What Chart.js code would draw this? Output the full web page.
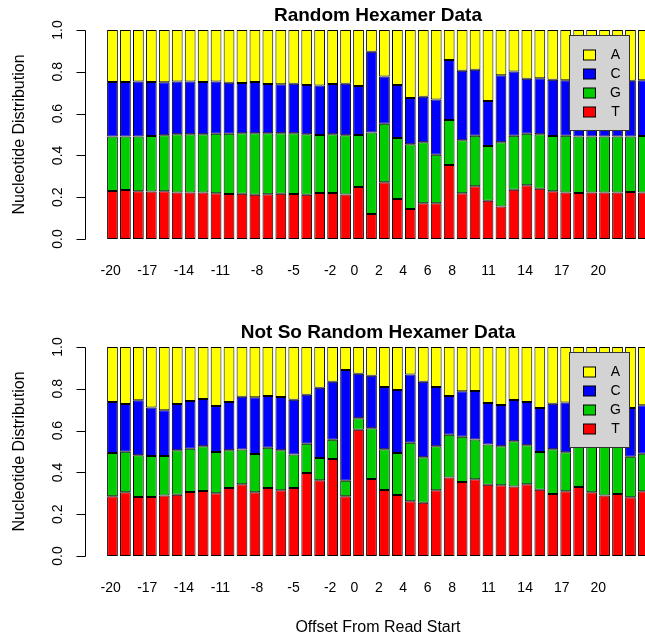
<!DOCTYPE html>
<html>
<head>
<meta charset="utf-8">
<script src="https://cdn.jsdelivr.net/npm/chart.js@4.4.0/dist/chart.umd.min.js"></script>
<style>
  html, body { margin: 0; padding: 0; background: #fff; overflow: hidden; }
  #wrap { position: relative; width: 645px; height: 635px; overflow: hidden; }
  canvas { position: absolute; left: 0; }
  #c1 { top: 0; }
  #c2 { top: 317px; }
</style>
</head>
<body>
<div id="wrap">
  <canvas id="c1" width="660" height="279"></canvas>
  <canvas id="c2" width="660" height="320"></canvas>
</div>
<script>
/* Data: offsets from read start, fraction of each nucleotide */
const offsets = [-20, -19, -18, -17, -16, -15, -14, -13, -12, -11, -10, -9, -8, -7, -6, -5, -4, -3, -2, -1,
  0, 1, 2, 3, 4, 5, 6, 7, 8, 9, 10, 11, 12, 13, 14, 15, 16, 17, 18, 19, 20, 21];
const xTicks = [-20, -17, -14, -11, -8, -5, -2, 0, 2, 4, 6, 8, 11, 14, 17, 20];
const yTicks = [0, 0.2, 0.4, 0.6, 0.8, 1.0];

// Random hexamer data
const randT = [.230, .234, .228, .227, .228, .223, .222, .223, .219, .215, .216, .212, .214, .216, .215, .212, .220, .220, .213, .249,
  .120, .271, .191, .144, .171, .171, .354, .219, .252, .183, .156, .236, .257, .241, .228, .223, .220, .223, .223, .223, .225, .223];
const randG = [.261, .257, .263, .266, .268, .278, .279, .278, .285, .288, .290, .294, .292, .290, .291, .289, .278, .281, .283, .249,
  .389, .281, .292, .309, .292, .232, .215, .253, .242, .262, .307, .258, .247, .260, .265, .271, .271, .268, .268, .268, .266, .270];
const randC = [.260, .260, .263, .258, .254, .253, .253, .250, .250, .245, .240, .245, .236, .234, .237, .236, .236, .241, .247, .234,
  .387, .226, .254, .222, .218, .265, .287, .333, .316, .215, .320, .308, .263, .268, .269, .266, .269, .269, .267, .267, .266, .267];
const randA = [.249, .249, .246, .249, .250, .246, .246, .249, .246, .252, .254, .249, .258, .260, .257, .263, .266, .258, .257, .268,
  .104, .222, .263, .325, .319, .332, .144, .195, .190, .340, .217, .198, .233, .231, .238, .240, .240, .240, .242, .242, .243, .240];

// Not so random hexamer data
const nsrT = [.286, .305, .282, .282, .289, .293, .306, .311, .300, .325, .343, .305, .325, .314, .325, .397, .362, .464, .286, .604,
  .368, .316, .292, .262, .255, .314, .376, .354, .367, .341, .338, .333, .343, .317, .297, .310, .330, .305, .289, .297, .281, .310];
const nsrG = [.207, .194, .200, .196, .189, .213, .207, .214, .198, .181, .166, .183, .193, .192, .161, .140, .107, .092, .074, .055,
  .243, .195, .201, .280, .217, .211, .204, .217, .191, .193, .187, .216, .187, .181, .214, .186, .220, .235, .271, .233, .194, .179];
const nsrC = [.244, .228, .263, .233, .219, .221, .229, .226, .220, .231, .253, .271, .248, .255, .262, .235, .336, .278, .530, .213,
  .252, .298, .301, .326, .362, .284, .186, .217, .232, .198, .197, .197, .207, .210, .218, .239, .190, .190, .180, .190, .233, .232];
const nsrA = [.263, .273, .255, .289, .303, .273, .258, .249, .282, .263, .238, .241, .234, .239, .252, .228, .195, .166, .110, .128,
  .137, .191, .206, .132, .166, .191, .234, .212, .210, .268, .278, .254, .263, .292, .271, .265, .260, .270, .260, .280, .292, .279];

const COLORS = { A: '#ffff00', C: '#0000ff', G: '#00cd00', T: '#ff0000' };
const FONT = '"Liberation Sans", Arial, Helvetica, sans-serif';
Chart.defaults.font.family = FONT;
Chart.defaults.color = '#000';

// label axis range (tick labels sit on their own scale, as in the original)
const XL_MIN = -20.386, XL_MAX = 24.233;

/* R style y axis, drawn off the plot region */
const rAxis = {
  id: 'rAxis',
  afterDraw(chart) {
    const ctx = chart.ctx;
    const y = chart.scales.y;
    const x0 = 85.5;
    ctx.save();
    ctx.strokeStyle = '#000';
    ctx.lineWidth = 1;
    ctx.beginPath();
    ctx.moveTo(x0, Math.round(y.getPixelForValue(0)) + 0.5);
    ctx.lineTo(x0, Math.round(y.getPixelForValue(1)) + 0.5);
    yTicks.forEach(v => {
      const py = Math.round(y.getPixelForValue(v)) + 0.5;
      ctx.moveTo(x0, py);
      ctx.lineTo(x0 - 9, py);
    });
    ctx.stroke();

    ctx.fillStyle = '#000';
    ctx.textAlign = 'center';
    ctx.textBaseline = 'alphabetic';
    ctx.font = '14px ' + FONT;
    yTicks.forEach(v => {
      ctx.save();
      ctx.translate(62, y.getPixelForValue(v));
      ctx.rotate(-Math.PI / 2);
      ctx.fillText(v.toFixed(1), 0, 0);
      ctx.restore();
    });
    ctx.font = '16px ' + FONT;
    ctx.translate(24, (y.getPixelForValue(0) + y.getPixelForValue(1)) / 2);
    ctx.rotate(-Math.PI / 2);
    ctx.fillText('Nucleotide Distribution', 0, 0);
    ctx.restore();
  }
};

/* Legend box in the top right of the plot */
const rLegend = {
  id: 'rLegend',
  afterDraw(chart) {
    const ctx = chart.ctx;
    const area = chart.chartArea;
    const bx = Math.round(area.right - 80.5) + 0.5;
    const by = Math.round(area.top + 4.7) + 0.5;
    ctx.save();
    ctx.fillStyle = '#d3d3d3';
    ctx.fillRect(bx, by, 60, 95);
    ctx.strokeStyle = '#333';
    ctx.lineWidth = 1;
    ctx.strokeRect(bx, by, 60, 95);
    ctx.font = '14px ' + FONT;
    ctx.textAlign = 'center';
    ctx.textBaseline = 'middle';
    chart.data.datasets.slice().reverse().forEach((ds, i) => {
      const cy = by + 19 + i * 19;
      ctx.fillStyle = ds.backgroundColor;
      ctx.fillRect(bx + 14, Math.round(cy - 5), 12, 10);
      ctx.strokeStyle = '#000';
      ctx.strokeRect(bx + 14, Math.round(cy - 5), 12, 10);
      ctx.fillStyle = '#000';
      ctx.fillText(ds.label, bx + 46, cy + 1);
    });
    ctx.restore();
  }
};

function makeChart(el, title, t, g, c, a, withXTitle) {
  const ds = (label, data) => ({ label, data, backgroundColor: COLORS[label], xAxisID: 'x', yAxisID: 'y' });
  return new Chart(el, {
    type: 'bar',
    data: {
      labels: offsets,
      datasets: [ds('T', t), ds('G', g), ds('C', c), ds('A', a)]
    },
    options: {
      responsive: false,
      animation: false,
      layout: { padding: { left: 106, right: 10.1, top: 0, bottom: 0 } },
      datasets: {
        bar: { barPercentage: 0.83, categoryPercentage: 1, borderWidth: 1, borderColor: '#000', borderSkipped: false }
      },
      plugins: {
        legend: { display: false },
        tooltip: { enabled: false },
        title: {
          display: true, text: title, color: '#000',
          font: { size: 19, weight: 'bold' },
          padding: { top: 4.6, bottom: 2.6 }
        }
      },
      scales: {
        x: { stacked: true, display: false },
        y: { stacked: true, display: false, min: 0, max: 1 },
        xl: {
          type: 'linear', position: 'bottom', bounds: 'data', offset: false,
          min: XL_MIN, max: XL_MAX,
          grid: { display: false, drawTicks: false, offset: false },
          border: { display: false },
          ticks: { autoSkip: false, padding: 23.6, color: '#000', font: { size: 14 }, callback: v => String(v) },
          afterBuildTicks: s => {
            s.ticks = xTicks.map(v => ({ value: v }));
            s.min = XL_MIN;
            s.max = XL_MAX;
          },
          afterFit: s => { s.height = withXTitle ? 81 : 40; },
          title: {
            display: withXTitle, text: 'Offset From Read Start', color: '#000',
            font: { size: 16 }, padding: { top: 0, bottom: 0 }
          }
        }
      }
    },
    plugins: [rAxis, rLegend]
  });
}

makeChart(document.getElementById('c1'), 'Random Hexamer Data', randT, randG, randC, randA, false);
makeChart(document.getElementById('c2'), 'Not So Random Hexamer Data', nsrT, nsrG, nsrC, nsrA, true);
</script>
</body>
</html>
